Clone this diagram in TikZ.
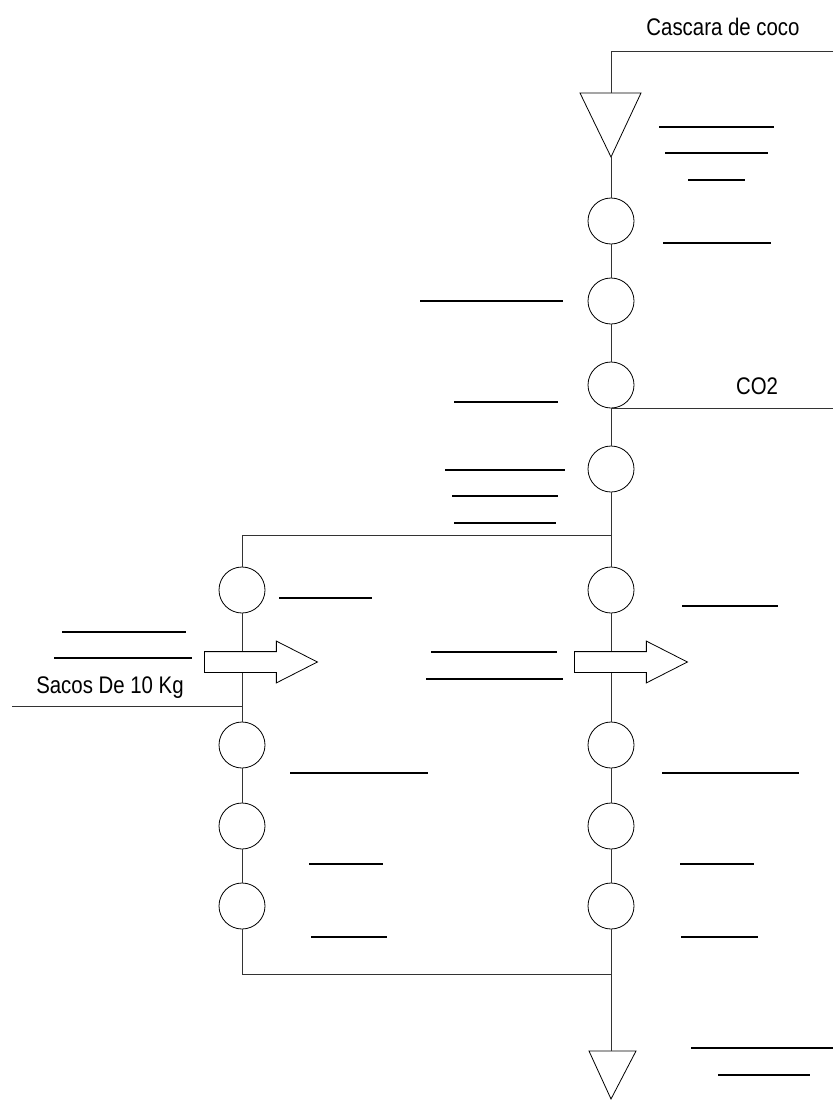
\documentclass[tikz,border=0pt]{standalone}
\usepackage{fontspec}
\newfontfamily\labelfont[FakeStretch=0.85]{Liberation Sans}
\usetikzlibrary{shapes.arrows}

\begin{document}
\begin{tikzpicture}[x=1pt, y=-1pt,
		process/.style = {draw, circle, minimum size=46pt, inner sep=0pt, line width=0.8pt},
		pipe/.style = {draw=black!80, line width=0.9pt},
		blankline/.style = {line width=2.6pt},
		flowarrow/.style = {single arrow, draw, fill=white, line width=0.8pt, inner sep=0pt, text height=20pt, text depth=0pt, minimum height=113pt, single arrow head extend=10.5pt, single arrow tip angle=54},
		txt/.style = {font=\labelfont\fontsize{24}{28}\selectfont, inner sep=0pt}]
		\useasboundingbox (0,0) rectangle (833,1100);
		\node[process] (c1) at (611,221) {};
		\node[process] (c2) at (611,301) {};
		\node[process] (c3) at (611,385) {};
		\node[process] (c4) at (611,469) {};
		\node[process] (r1) at (611,590) {};
		\node[process] (r2) at (611,745) {};
		\node[process] (r3) at (611,826) {};
		\node[process] (r4) at (611,906) {};
		\node[process] (l1) at (242,590) {};
		\node[process] (l2) at (242,745) {};
		\node[process] (l3) at (242,826) {};
		\node[process] (l4) at (242,906) {};
		\node[txt] (cascara) at (723,27) {Cascara de coco};
		\node[txt] (co2) at (757,386) {CO2};
		\node[txt] (sacos) at (110,688) {Sacos De 10 Kg};
		\coordinate (inlet) at (833,51);
		\coordinate (inTop) at (611,93);
		\coordinate (inTip) at (611,157);
		\coordinate (co2out) at (833,410);
		\coordinate (split) at (611,535);
		\coordinate (sacosIn) at (12,706);
		\coordinate (merge) at (611,974);
		\coordinate (outTop) at (611,1051);
		\draw[line width=0.8pt] (580,93) -- (641,93) -- (inTip) -- cycle;
		\draw[line width=0.8pt] (589,1051) -- (636,1051) -- (611,1099) -- cycle;
		\draw[pipe] (inlet) -| (inTop);
		\draw[pipe] (inTip) -- (c1);
		\draw[pipe] (c1) -- (c2);
		\draw[pipe] (c2) -- (c3);
		\draw[pipe] (c3) -- (c4);
		\draw[pipe] (c3.south) -- (c3.south -| co2out);
		\draw[pipe] (c4) -- (r1);
		\draw[pipe] (split) -| (l1);
		\draw[pipe] (r1) -- (r2);
		\draw[pipe] (r2) -- (r3);
		\draw[pipe] (r3) -- (r4);
		\draw[pipe] (r4) -- (outTop);
		\draw[pipe] (l1) -- (l2);
		\draw[pipe] (l2) -- (l3);
		\draw[pipe] (l3) -- (l4);
		\draw[pipe] (l4) |- (merge);
		\draw[pipe] (sacosIn) -- (sacosIn -| l1);
		\node[flowarrow, anchor=tail] (feedL) at (204,662) {};
		\node[flowarrow, anchor=tail] (feedR) at (574,662) {};
		\foreach \a/\b/\y in {659/774/127, 665/768/153, 688/745/180, 663/771/243, 420/563/301,
			454/558/402, 445/565/470, 452/558/496, 454/556/523, 279/372/598, 682/778/606,
			62/186/632, 54/192/658, 431/557/652, 426/563/679, 290/428/773, 662/799/773,
			309/383/864, 680/754/864, 311/387/937, 681/758/937, 691/833/1048, 718/810/1075}
			\draw[blankline] (\a,\y) -- (\b,\y);
	\end{tikzpicture}
\end{document}
